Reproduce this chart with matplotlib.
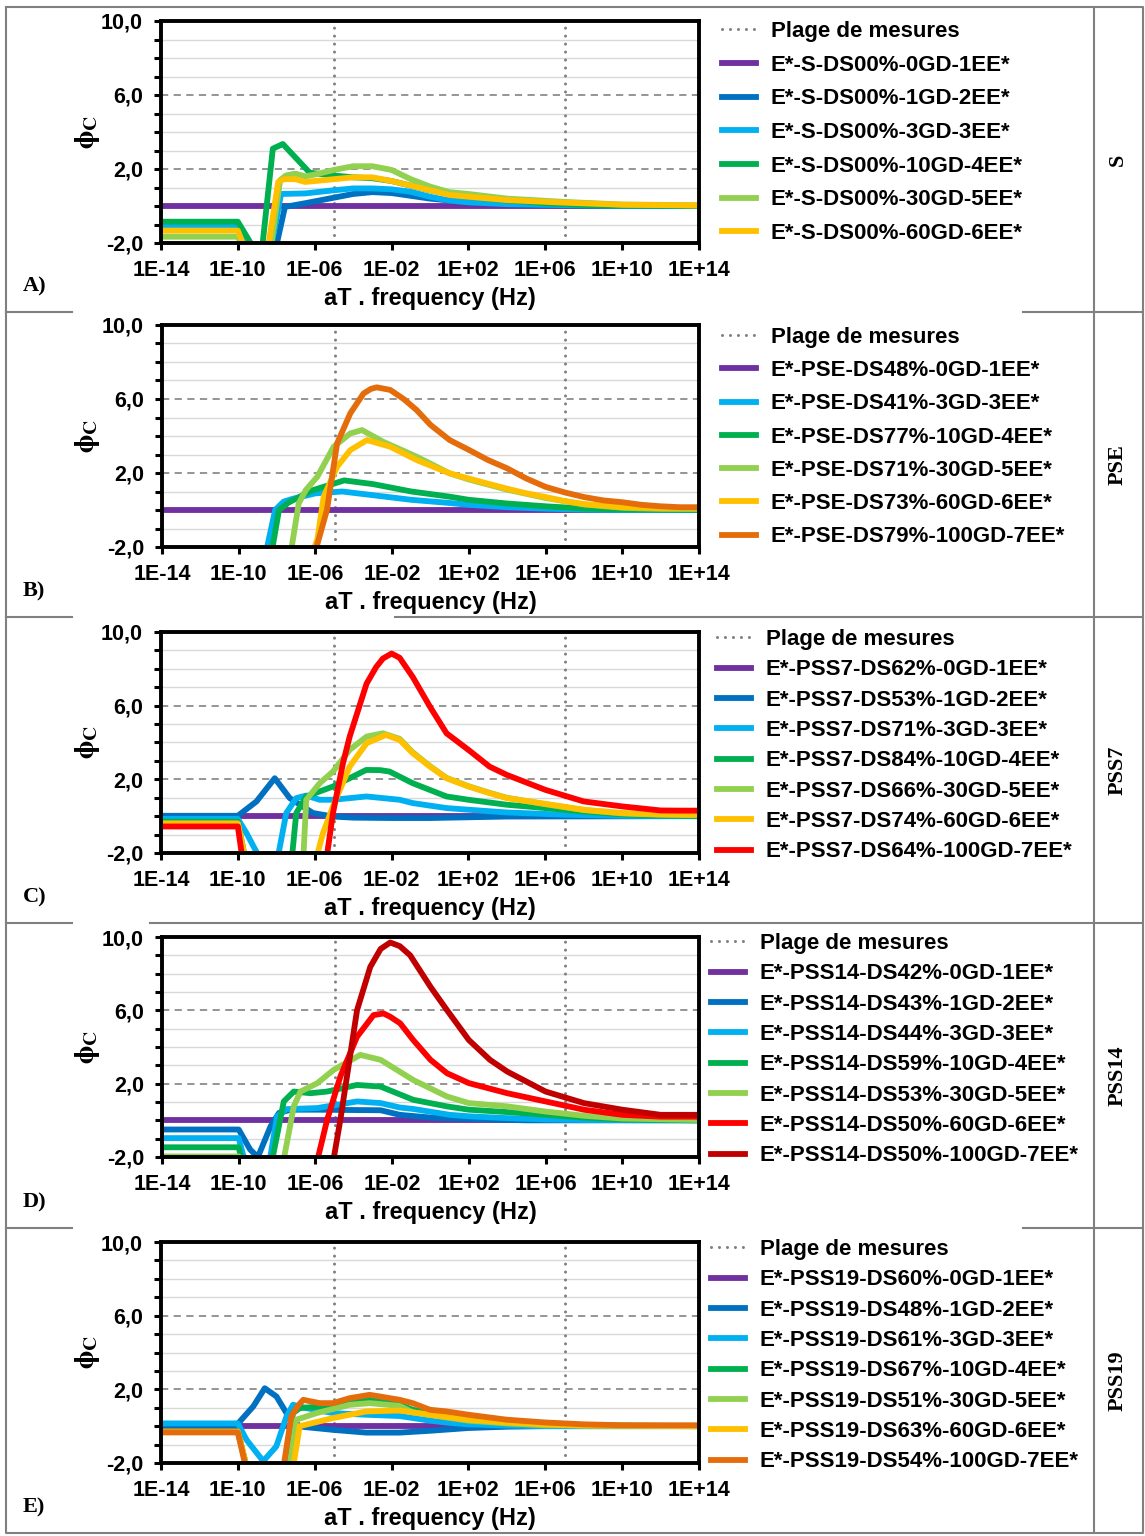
import numpy as np
import matplotlib
matplotlib.use("Agg")
import matplotlib.pyplot as plt
from matplotlib.lines import Line2D
from matplotlib.ticker import FixedLocator, FuncFormatter, NullLocator

plt.rcParams['font.family'] = ['Liberation Sans', 'DejaVu Sans']
plt.rcParams['font.weight'] = 'bold'
plt.rcParams['mathtext.fontset'] = 'stix'

# ---------------------------------------------------------
# 1. DATA  (x = log10 of aT . frequency, y = phi_C)
# ---------------------------------------------------------
PURPLE, BLUE, LBLUE = '#7030A0', '#0070C0', '#00B0F0'
GREEN, LGREEN, YELLOW = '#00B050', '#92D050', '#FFC000'
ORANGE, RED, DRED = '#E46C0A', '#FF0000', '#C00000'

PLAGE = [-5, 7]   # measured range limits (log10 Hz)

# A) S
A_LABELS = ['E*-S-DS00%-0GD-1EE*', 'E*-S-DS00%-1GD-2EE*', 'E*-S-DS00%-3GD-3EE*',
            'E*-S-DS00%-10GD-4EE*', 'E*-S-DS00%-30GD-5EE*', 'E*-S-DS00%-60GD-6EE*']
A_COLORS = [PURPLE, BLUE, LBLUE, GREEN, LGREEN, YELLOW]
A_LOGF = [
    [-14, 14],
    [-14, -10, -9.6, -8.05, -7.55, -6.5, -5.5, -4, -3, -2, -1, 0, 1, 2, 4, 6, 8, 10, 14],
    [-14, -10, -9.6, -8.3, -7.75, -6.5, -5, -4, -3, -2, -1, 0, 1, 2, 4, 7, 10, 14],
    [-14, -10, -9.1, -8.75, -8.18, -7.66, -6.26, -5, -4, -3, -2, -1, 0, 1, 2, 4, 6, 8, 10, 14],
    [-14, -10, -9.6, -8.3, -7.8, -7.5, -7, -6.5, -6, -5, -4, -3, -2, -1, 0, 1, 2, 4, 7, 10, 14],
    [-14, -10, -9.6, -8.45, -7.9, -7.6, -7, -6.5, -6, -5, -4, -3, -2, -1, 0, 1, 2, 4, 7, 10, 14],
]
A_PHI = [
    [0, 0],
    [-1.0, -1.0, -2.4, -2.4, -0.05, 0.15, 0.35, 0.65, 0.75, 0.7, 0.55, 0.4, 0.3, 0.2, 0.1, 0.05, 0.02, 0, 0],
    [-1.12, -1.12, -2.4, -2.4, 0.65, 0.68, 0.85, 0.95, 0.95, 0.9, 0.77, 0.5, 0.3, 0.2, 0.1, 0.05, 0.01, 0],
    [-0.85, -0.85, -2.4, -2.4, 3.1, 3.35, 1.8, 1.65, 1.55, 1.5, 1.35, 1.1, 0.85, 0.65, 0.5, 0.3, 0.15, 0.06, 0.02, 0],
    [-1.66, -1.66, -2.4, -2.4, 1.4, 1.65, 1.75, 1.6, 1.7, 1.95, 2.15, 2.15, 1.95, 1.45, 1.05, 0.75, 0.65, 0.4, 0.22, 0.08, 0.04],
    [-1.33, -1.33, -2.4, -2.4, 1.3, 1.45, 1.45, 1.3, 1.35, 1.45, 1.55, 1.55, 1.35, 1.1, 0.85, 0.6, 0.5, 0.32, 0.18, 0.07, 0.03],
]

# B) PSE
B_LABELS = ['E*-PSE-DS48%-0GD-1EE*', 'E*-PSE-DS41%-3GD-3EE*', 'E*-PSE-DS77%-10GD-4EE*',
            'E*-PSE-DS71%-30GD-5EE*', 'E*-PSE-DS73%-60GD-6EE*', 'E*-PSE-DS79%-100GD-7EE*']
B_COLORS = [PURPLE, LBLUE, GREEN, LGREEN, YELLOW, ORANGE]
B_LOGF = [
    [-14, 14],
    [-8.6, -8.1, -7.66, -7.2, -6, -4.6, -3, -1, 1, 2, 4, 6, 8, 10, 14],
    [-8.3, -7.9, -7.4, -6.2, -4.5, -3, -1, 1, 2, 4, 6, 8, 10, 14],
    [-7.3, -6.87, -6.5, -5.9, -5.05, -4.18, -3.57, -2.47, -0.72, 1, 2, 4, 6, 8, 10, 12, 14],
    [-6.2, -5.9, -5.57, -4.87, -4.18, -3.31, -2.1, -0.72, 1, 2, 3, 4, 5, 6, 7, 8, 10, 12, 14],
    [-6.05, -5.4, -4.87, -4.18, -3.49, -3.1, -2.8, -2.1, -1.4, -0.72, 0, 1, 2, 3, 4, 5, 6, 7, 8, 9, 10, 11, 12, 13, 14],
]
B_PHI = [
    [0, 0],
    [-2.4, 0, 0.45, 0.6, 0.9, 1.0, 0.8, 0.55, 0.38, 0.28, 0.15, 0.07, 0.02, 0, 0],
    [-2.4, 0, 0.4, 1.05, 1.6, 1.4, 1.0, 0.72, 0.55, 0.35, 0.2, 0.08, 0.03, 0],
    [-2.4, 0.36, 1.08, 1.8, 3.42, 4.14, 4.32, 3.69, 2.88, 1.98, 1.65, 1.1, 0.65, 0.3, 0.12, 0.06, 0.05],
    [-2.4, -1.6, 0.72, 2.34, 3.24, 3.78, 3.42, 2.7, 1.98, 1.7, 1.42, 1.15, 0.9, 0.7, 0.48, 0.32, 0.15, 0.1, 0.12],
    [-2.4, 0, 3.6, 5.23, 6.3, 6.55, 6.63, 6.49, 6.0, 5.4, 4.6, 3.78, 3.25, 2.7, 2.25, 1.7, 1.25, 0.95, 0.7, 0.52, 0.42, 0.28, 0.2, 0.15, 0.15],
]

# C) PSS7
C_LABELS = ['E*-PSS7-DS62%-0GD-1EE*', 'E*-PSS7-DS53%-1GD-2EE*', 'E*-PSS7-DS71%-3GD-3EE*',
            'E*-PSS7-DS84%-10GD-4EE*', 'E*-PSS7-DS66%-30GD-5EE*', 'E*-PSS7-DS74%-60GD-6EE*',
            'E*-PSS7-DS64%-100GD-7EE*']
C_COLORS = [PURPLE, BLUE, LBLUE, GREEN, LGREEN, YELLOW, RED]
C_LOGF = [
    [-14, 14],
    [-14, -10, -9.03, -8.08, -7.3, -6.09, -5.05, -4, -2, 0, 2, 4, 14],
    [-14, -10, -9.55, -8.8, -7.95, -7.48, -6.96, -6.44, -5.74, -5.05, -3.3, -1.58, -0.9, 0.86, 2, 4, 7, 10, 14],
    [-14, -10, -9.6, -7.2, -6.96, -6.44, -5.05, -3.32, -2.6, -2.1, -0.9, 0.86, 2, 4, 6, 8, 10, 12, 14],
    [-14, -10, -9.6, -6.6, -6.44, -5.74, -5.05, -4.18, -3.3, -2.45, -1.58, -0.9, 0, 0.86, 2, 3.1, 4, 6, 8, 10, 12, 14],
    [-14, -10, -9.6, -5.95, -5.57, -5.05, -4.18, -3.3, -2.3, -1.58, -0.9, 0, 0.86, 2, 3.1, 4, 6, 8, 10, 12, 14],
    [-14, -10, -9.75, -5.4, -5.05, -4.53, -4.18, -3.3, -2.8, -2.45, -2.0, -1.58, -0.9, 0, 0.86, 2, 3.1, 4, 6, 8, 10, 12, 13, 14],
]
C_PHI = [
    [0, 0],
    [0.02, 0.02, 0.8, 2.06, 0.98, 0.17, -0.02, -0.08, -0.1, -0.1, -0.06, -0.02, 0],
    [-0.15, -0.15, -0.92, -2.4, -2.4, 0.17, 0.98, 1.12, 0.89, 0.89, 1.07, 0.89, 0.71, 0.44, 0.35, 0.2, 0.08, 0.02, 0],
    [-0.3, -0.3, -2.4, -2.4, 0.17, 1.07, 1.61, 2.51, 2.5, 2.42, 1.79, 1.07, 0.89, 0.62, 0.44, 0.25, 0.1, 0.03, 0],
    [-0.4, -0.4, -2.4, -2.4, 0.89, 1.79, 2.42, 3.6, 4.32, 4.5, 4.2, 3.47, 2.72, 2.08, 1.63, 1.27, 1.0, 0.65, 0.33, 0.15, 0.08, 0.05],
    [-0.4, -0.4, -2.4, -2.4, -0.92, 0.53, 2.69, 3.96, 4.41, 4.14, 3.42, 2.69, 2.06, 1.61, 1.25, 0.98, 0.67, 0.35, 0.17, 0.1, 0.08],
    [-0.56, -0.56, -2.4, -2.4, 0.17, 2.87, 4.32, 7.2, 8.1, 8.56, 8.83, 8.6, 7.56, 5.94, 4.5, 3.6, 2.69, 2.24, 1.43, 0.8, 0.53, 0.31, 0.3, 0.3],
]

# D) PSS14
D_LABELS = ['E*-PSS14-DS42%-0GD-1EE*', 'E*-PSS14-DS43%-1GD-2EE*', 'E*-PSS14-DS44%-3GD-3EE*',
            'E*-PSS14-DS59%-10GD-4EE*', 'E*-PSS14-DS53%-30GD-5EE*', 'E*-PSS14-DS50%-60GD-6EE*',
            'E*-PSS14-DS50%-100GD-7EE*']
D_COLORS = [PURPLE, BLUE, LBLUE, GREEN, LGREEN, RED, DRED]
D_LOGF = [
    [-14, 14],
    [-14, -10, -9.4, -9.0, -8.34, -7.9, -7.3, -5.9, -3.83, -2.6, -1.6, 0, 1, 2, 3, 5, 14],
    [-14, -10, -9.64, -8.42, -8.0, -7.5, -5.9, -3.83, -2.6, -1.6, -0.9, 1, 2, 4, 6, 8, 14],
    [-14, -10, -9.8, -8.3, -7.65, -7.13, -6.26, -5.39, -3.83, -2.6, -0.9, 0.86, 2, 4, 6, 8, 10, 14],
    [-14, -10, -9.9, -7.7, -7.13, -6.78, -5.91, -5.05, -3.66, -2.6, -0.9, 0.86, 2, 4, 6, 8, 10, 14],
    [-5.95, -5.39, -4.7, -3.83, -2.97, -2.45, -2.1, -1.58, -0.9, 0, 0.86, 2, 4, 6, 8, 10, 12, 14],
    [-5.1, -4.7, -3.83, -3.14, -2.6, -2.1, -1.6, -1.06, 0, 0.86, 2, 3.1, 4, 6, 8, 10, 12, 14],
]
D_PHI = [
    [0, 0],
    [-0.5, -0.5, -1.6, -2.0, -0.33, 0.4, 0.58, 0.58, 0.56, 0.55, 0.3, 0.15, 0.1, 0.08, 0.05, 0, 0],
    [-0.97, -0.97, -2.4, -2.4, 0.21, 0.61, 0.67, 1.03, 0.94, 0.7, 0.62, 0.3, 0.22, 0.12, 0.05, 0.02, 0],
    [-1.47, -1.47, -2.4, -2.4, 1.03, 1.57, 1.48, 1.57, 1.93, 1.84, 1.12, 0.76, 0.58, 0.45, 0.3, 0.15, 0.05, 0],
    [-1.97, -1.97, -2.4, -2.4, 0.76, 1.57, 2.02, 2.75, 3.57, 3.3, 2.2, 1.3, 0.94, 0.76, 0.48, 0.25, 0.1, 0.02],
    [-2.4, 0.03, 2.39, 4.56, 5.74, 5.83, 5.65, 5.29, 4.38, 3.3, 2.57, 2.03, 1.48, 1.03, 0.58, 0.3, 0.2, 0.2],
    [-2.4, 0.03, 6.01, 8.37, 9.35, 9.7, 9.5, 9.0, 7.28, 6.01, 4.38, 3.3, 2.66, 1.57, 0.94, 0.58, 0.3, 0.3],
]

# E) PSS19
E_LABELS = ['E*-PSS19-DS60%-0GD-1EE*', 'E*-PSS19-DS48%-1GD-2EE*', 'E*-PSS19-DS61%-3GD-3EE*',
            'E*-PSS19-DS67%-10GD-4EE*', 'E*-PSS19-DS51%-30GD-5EE*', 'E*-PSS19-DS63%-60GD-6EE*',
            'E*-PSS19-DS54%-100GD-7EE*']
E_COLORS = [PURPLE, BLUE, LBLUE, GREEN, LGREEN, YELLOW, ORANGE]
E_LOGF = [
    [-14, 14],
    [-14, -10.07, -9.2, -8.6, -7.99, -7.47, -6.78, -5.05, -3.32, -1.58, 0, 2, 4, 6, 14],
    [-14, -10, -9.55, -8.68, -8.0, -7.47, -7.13, -6.43, -5.05, -3.32, -1.58, 0, 1, 2, 4, 6, 14],
    [-14, -10, -9.5, -7.6, -7.13, -6.78, -5.74, -4.18, -3.14, -1.58, -0.9, 0.86, 2, 4, 6, 8, 14],
    [-14, -10, -9.5, -7.35, -6.96, -5.9, -4.18, -3.14, -1.58, -0.9, 1, 2, 4, 6, 14],
    [-14, -10, -9.5, -7.15, -6.78, -5.05, -3.32, -1.58, -0.9, 0.86, 2, 4, 6, 8, 14],
    [-14, -10, -9.55, -7.65, -7.22, -6.9, -6.6, -5.74, -5.05, -4.18, -3.14, -2.6, -1.58, -0.9, 0, 0.86, 2, 4, 6, 8, 10, 14],
]
E_PHI = [
    [0, 0],
    [0.05, 0.05, 1.07, 2.06, 1.61, 0.71, -0.02, -0.2, -0.35, -0.35, -0.25, -0.1, -0.03, 0, 0],
    [0.15, 0.15, -0.74, -1.9, -1.1, 0.53, 1.16, 0.98, 0.71, 0.62, 0.55, 0.3, 0.18, 0.1, 0.03, 0, 0],
    [-0.3, -0.3, -2.4, -2.4, 0.71, 0.98, 1.07, 1.34, 1.43, 1.16, 0.89, 0.55, 0.4, 0.25, 0.12, 0.05, 0],
    [-0.3, -0.3, -2.4, -2.4, 0.35, 0.71, 1.16, 1.25, 1.1, 0.75, 0.45, 0.3, 0.15, 0.05, 0],
    [-0.3, -0.3, -2.4, -2.4, 0.0, 0.44, 0.8, 0.85, 0.75, 0.5, 0.35, 0.2, 0.1, 0.03, 0],
    [-0.34, -0.34, -2.4, -2.4, 0.53, 1.07, 1.43, 1.25, 1.25, 1.52, 1.7, 1.61, 1.43, 1.25, 0.89, 0.8, 0.62, 0.35, 0.2, 0.1, 0.05, 0.05],
]

# ---------------------------------------------------------
# 2. LAYOUT (pixel positions on the 1145 x 1536 page)
# ---------------------------------------------------------
W, H = 1145, 1536
ROW_EDGES = [7, 312, 617, 923, 1228, 1533]

panels = [
    dict(tag='A)', name='S', box=(161, 21, 699, 243), leg=(722, 21), lsp=0.57,
         labels=A_LABELS, colors=A_COLORS, logf=A_LOGF, phi=A_PHI),
    dict(tag='B)', name='PSE', box=(162, 325, 699, 547), leg=(722, 327), lsp=0.55,
         labels=B_LABELS, colors=B_COLORS, logf=B_LOGF, phi=B_PHI),
    dict(tag='C)', name='PSS7', box=(161, 632, 699, 853), leg=(717, 629), lsp=0.42,
         labels=C_LABELS, colors=C_COLORS, logf=C_LOGF, phi=C_PHI),
    dict(tag='D)', name='PSS14', box=(162, 937, 699, 1157), leg=(711, 933), lsp=0.42,
         labels=D_LABELS, colors=D_COLORS, logf=D_LOGF, phi=D_PHI),
    dict(tag='E)', name='PSS19', box=(161, 1242, 699, 1463), leg=(711, 1239), lsp=0.42,
         labels=E_LABELS, colors=E_COLORS, logf=E_LOGF, phi=E_PHI),
]

fig = plt.figure(figsize=(W / 100, H / 100), dpi=100)
fig.patch.set_facecolor('white')

# table frame drawn on a full-page overlay
page = fig.add_axes([0, 0, 1, 1], zorder=0)
page.set_xlim(0, W)
page.set_ylim(H, 0)
page.axis('off')
GRAY = '#808080'
page.plot([6, 1143, 1143, 6, 6], [7, 7, 1533, 1533, 7], color=GRAY, lw=1.5)
page.plot([1094, 1094], [7, 1533], color=GRAY, lw=1.5)
seps = {312: [(6, 72), (1023, 1143)], 617: [(6, 72), (395, 1143)],
        923: [(6, 72), (150, 1143)], 1228: [(6, 72), (1023, 1143)]}
for y, segs in seps.items():
    for x0, x1 in segs:
        page.plot([x0, x1], [y, y], color=GRAY, lw=1.5)

for i, p in enumerate(panels):
    top, bot = ROW_EDGES[i], ROW_EDGES[i + 1]
    page.text(23, bot - 21, p['tag'], family='Liberation Serif', weight='bold',
              fontsize=16, ha='left', va='baseline')
    page.text(1118, (top + bot) / 2, p['name'], family='Liberation Serif', weight='bold',
              fontsize=16, rotation=90, ha='center', va='center')

# ---------------------------------------------------------
# 3. PANELS
# ---------------------------------------------------------
for p in panels:
    l, t, r, b = p['box']
    ax = fig.add_axes([l / W, 1 - b / H, (r - l) / W, (b - t) / H], zorder=2)
    ax.set_xscale('log')
    ax.set_xlim(1e-14, 1e14)
    ax.set_ylim(-2, 10)

    # horizontal grid: light every 1, dashed at the major values
    for v in range(-1, 10):
        if v in (2, 6):
            ax.axhline(v, color='#8C8C8C', lw=1.3, ls=(0, (4, 3)), zorder=1)
        else:
            ax.axhline(v, color='#D9D9D9', lw=1.0, zorder=1)

    # measured range
    for e in PLAGE:
        ax.axvline(10.0 ** e, color=GRAY, lw=2.2, ls=(0, (0.01, 2.6)),
                   dash_capstyle='round', zorder=2)

    handles = [Line2D([], [], color=GRAY, lw=2.2, ls=(0, (0.01, 2.6)), dash_capstyle='round')]
    for lab, col, xs, ys in zip(p['labels'], p['colors'], p['logf'], p['phi']):
        h, = ax.plot(np.power(10.0, xs), ys, color=col, lw=4.2,
                     solid_joinstyle='round', zorder=3)
        handles.append(h)

    ax.xaxis.set_major_locator(FixedLocator(10.0 ** np.arange(-14, 15, 4)))
    ax.xaxis.set_minor_locator(NullLocator())
    ax.xaxis.set_major_formatter(FuncFormatter(
        lambda v, pos: f"1E{int(round(np.log10(v))):+03d}"))
    ax.yaxis.set_major_locator(FixedLocator([-2, 2, 6, 10]))
    ax.yaxis.set_minor_locator(FixedLocator(np.arange(-2, 11, 1)))
    ax.yaxis.set_major_formatter(FuncFormatter(lambda v, pos: f"{v:.1f}".replace('.', ',')))
    ax.tick_params(which='both', direction='out', color='black', width=2.2)
    ax.tick_params(axis='x', which='major', length=5, pad=7, labelsize=15.5)
    ax.tick_params(axis='y', which='major', length=5, pad=8, labelsize=15.5)
    ax.tick_params(axis='y', which='minor', length=5)
    for lbl in ax.get_xticklabels() + ax.get_yticklabels():
        lbl.set_fontweight('bold')
    for s in ax.spines.values():
        s.set_linewidth(2.8)
        s.set_color('black')
        s.set_zorder(5)

    fig.text(((l + r) / 2) / W, 1 - (b + 62) / H, 'aT . frequency (Hz)',
             fontsize=17, weight='bold', ha='center', va='baseline')
    fig.text(88 / W, 1 - ((t + b) / 2) / H, r'$\mathrm{\phi}_{\mathrm{C}}$',
             fontsize=20, rotation=90, ha='center', va='center')

    lx, ly = p['leg']
    ax.legend(handles, ['Plage de mesures'] + p['labels'], loc='upper left',
              bbox_to_anchor=(lx / W, 1 - ly / H), bbox_transform=fig.transFigure,
              frameon=False, borderpad=0, borderaxespad=0, handlelength=1.55,
              handletextpad=0.65, labelspacing=p['lsp'],
              prop={'family': 'Liberation Sans', 'weight': 'bold', 'size': 16})

fig.savefig('out.png', dpi=100, facecolor='white')
